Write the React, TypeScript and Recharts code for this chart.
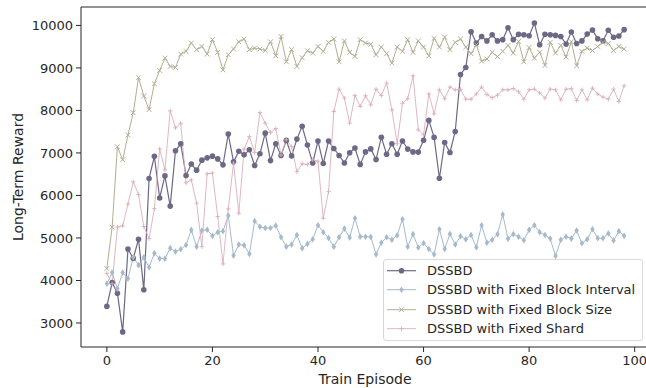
import React from 'react';
import { LineChart, Line, XAxis, YAxis, ReferenceLine } from 'recharts';

const dssbd = [
  3390, 3950, 3700, 2790, 4740, 4520, 4970, 3780, 6400, 6920,
  5940, 6460, 5750, 7050, 7215, 6470, 6740, 6595, 6830, 6885,
  6925, 6860, 6720, 7445, 6790, 7040, 6955, 7075, 6705, 6980,
  7465, 6820, 7215, 6940, 7295, 6930, 7325, 7625, 7185, 6765,
  7280, 6750, 7280, 7105, 6940, 6765, 7005, 7115, 6730, 7025,
  7095, 6845, 7370, 6970, 7215, 6970, 7280, 7090, 7025, 7020,
  7300, 7765, 7365, 6405, 7245, 7010, 7505, 8845, 9010, 9850,
  9585, 9740, 9635, 9780, 9635, 9665, 9945, 9665, 9790, 9780,
  9755, 10055, 9545, 9790, 9780, 9765, 9740, 9560, 9845, 9575,
  9635, 9795, 9890, 9685, 9640, 9885, 9720, 9750, 9900,
];

const fixedInterval = [
  3925, 4185, 3805, 4185, 4045, 4545, 4360, 4545, 4310, 4640,
  4515, 4515, 4760, 4680, 4735, 4835, 5190, 4795, 5175, 5195,
  5050, 5135, 5160, 5525, 4585, 4845, 4830, 4625, 5395, 5265,
  5235, 5235, 5290, 5015, 4795, 4845, 5070, 4760, 4860, 4970,
  5300, 5135, 5000, 4795, 5015, 5220, 5010, 5465, 5030, 5030,
  5025, 4615, 4890, 5015, 4955, 5065, 5440, 4795, 5090, 4775,
  4875, 4740, 4615, 5205, 4740, 5095, 4845, 5040, 4970, 5070,
  4780, 5300, 4890, 4955, 5090, 5550, 4980, 5090, 5030, 4945,
  5190, 5300, 5135, 5070, 4985, 4575, 4955, 5030, 4985, 5175,
  4875, 4970, 5205, 4995, 4995, 5105, 4940, 5160, 5050,
];

const fixedSize = [
  4280, 5255, 7145, 6840, 7420, 7945, 8770, 8340, 8020, 8625,
  8940, 9230, 9035, 9010, 9325, 9390, 9585, 9430, 9505, 9325,
  9665, 9365, 8955, 9310, 9445, 9615, 9680, 9430, 9465, 9445,
  9410, 9615, 9285, 9740, 9145, 9430, 9035, 9240, 9405, 9350,
  9505, 9390, 9600, 9680, 9145, 9635, 9365, 9270, 9665, 9585,
  9555, 9310, 9490, 9335, 9115, 9490, 9390, 9665, 9365, 9635,
  9490, 9285, 9695, 9490, 9725, 9430, 9600, 9680, 9490, 9335,
  9545, 9160, 9210, 9365, 9265, 9390, 9530, 9350, 9625, 9145,
  9480, 9230, 9370, 9060, 9600, 9350, 9530, 9255, 9615, 9050,
  9390, 9465, 9410, 9505, 9600, 9575, 9410, 9505, 9445,
];

const fixedShard = [
  4170, 3920, 5255, 5285, 5800, 6320, 6020, 5270, 4985, 5690,
  7095, 6600, 7990, 7590, 7700, 6295, 6365, 5820, 4795, 6510,
  6525, 5505, 4390, 5685, 6760, 5580, 7090, 7385, 7010, 7950,
  7700, 7480, 7575, 6950, 7310, 7150, 6560, 6745, 6730, 6840,
  6805, 5465, 6090, 7975, 8500, 8290, 7700, 8350, 8095, 8345,
  8130, 8500, 8350, 8645, 8015, 7215, 8170, 8275, 8815, 7545,
  7425, 8390, 7920, 8485, 8275, 8550, 8485, 8500, 8265, 8265,
  8385, 8550, 8375, 8300, 8360, 8485, 8485, 8515, 8440, 8265,
  8485, 8500, 8410, 8290, 8500, 8485, 8250, 8500, 8510, 8235,
  8485, 8250, 8525, 8385, 8315, 8265, 8500, 8210, 8580,
];

const seriesNames = [
  'DSSBD',
  'DSSBD with Fixed Block Interval',
  'DSSBD with Fixed Block Size',
  'DSSBD with Fixed Shard',
];

const xTicks = [0, 20, 40, 60, 80, 100];
const yTicks = [3000, 4000, 5000, 6000, 7000, 8000, 9000, 10000];

const data = dssbd.map((v, i) => ({
  x: i,
  a: v,
  b: fixedInterval[i],
  c: fixedSize[i],
  d: fixedShard[i],
}));

const COLORS = ['#6e6887', '#a6bacb', '#b2ad93', '#dbafba'];
const KINDS = ['circle', 'diamond', 'x', 'plus'];
const WIDTHS = [1.2, 1, 1, 0.9];
const KEYS = ['a', 'b', 'c', 'd'];
const TEXT = '#262626';
const FONT = '"DejaVu Sans", sans-serif';
const Y_DOMAIN: [number, number] = [2435, 10433];

function marker(kind: string, cx: number, cy: number, color: string) {
  if (kind === 'circle') return <circle cx={cx} cy={cy} r={2.8} fill={color} />;
  if (kind === 'diamond')
    return (
      <path
        d={`M${cx},${cy - 3.3}L${cx + 2.2},${cy}L${cx},${cy + 3.3}L${cx - 2.2},${cy}Z`}
        fill={color}
      />
    );
  if (kind === 'x')
    return (
      <path
        d={`M${cx - 2.4},${cy - 2.4}L${cx + 2.4},${cy + 2.4}M${cx - 2.4},${cy + 2.4}L${cx + 2.4},${cy - 2.4}`}
        stroke={color}
        strokeWidth={1}
        fill="none"
      />
    );
  return (
    <path
      d={`M${cx - 2.2},${cy}L${cx + 2.2},${cy}M${cx},${cy - 2.2}L${cx},${cy + 2.2}`}
      stroke={color}
      strokeWidth={0.9}
      fill="none"
    />
  );
}

function makeDot(s: number) {
  return (p: any) => (
    <g key={`m${s}-${p.index}`}>{marker(KINDS[s], p.cx, p.cy, COLORS[s])}</g>
  );
}

function LegendBox() {
  return (
    <div
      style={{
        position: 'absolute',
        left: 383,
        top: 259,
        width: 260,
        height: 82,
        boxSizing: 'border-box',
        border: '1px solid #d9d9d9',
        borderRadius: 3,
        background: 'rgba(255,255,255,0.8)',
        paddingTop: 1,
        fontFamily: FONT,
        fontSize: 13,
        color: TEXT,
      }}
    >
      {seriesNames.map((name, s) => (
        <div
          key={name}
          style={{ height: 19.4, display: 'flex', alignItems: 'center', position: 'relative' }}
        >
          <svg width={30} height={19.4} style={{ position: 'absolute', left: 3, top: 0 }}>
            <line x1={0} x2={29} y1={9.7} y2={9.7} stroke={COLORS[s]} strokeWidth={WIDTHS[s]} />
            {marker(KINDS[s], 14.5, 9.7, COLORS[s])}
          </svg>
          <span style={{ position: 'absolute', left: 43, top: 1, whiteSpace: 'nowrap', lineHeight: '17px' }}>
            {name}
          </span>
        </div>
      ))}
    </div>
  );
}

export default function App() {
  return (
    <div
      style={{
        position: 'fixed',
        left: 0,
        top: 0,
        width: 646,
        height: 388,
        overflow: 'hidden',
        background: '#fff',
        fontFamily: FONT,
      }}
    >
      <LineChart
        width={660}
        height={388}
        data={data}
        margin={{ top: 7, right: 10, bottom: 0, left: 0 }}
      >
        <XAxis
          dataKey="x"
          type="number"
          domain={[-4.9, 102.9]}
          ticks={xTicks}
          allowDataOverflow
          height={41}
          tickSize={5}
          tickMargin={4}
          tick={{ fontSize: 13, fill: TEXT, fontFamily: FONT }}
          tickLine={{ stroke: TEXT, strokeWidth: 1 }}
          axisLine={{ stroke: TEXT, strokeWidth: 1 }}
          label={{
            content: () => (
              <text
                x={365}
                y={379}
                textAnchor="middle"
                dominantBaseline="central"
                fontSize={14}
                fill={TEXT}
                fontFamily={FONT}
              >
                Train Episode
              </text>
            ),
          }}
        />
        <YAxis
          type="number"
          domain={Y_DOMAIN}
          ticks={yTicks}
          allowDataOverflow
          width={81}
          tickSize={5}
          tickMargin={3}
          tick={{ fontSize: 13, fill: TEXT, fontFamily: FONT }}
          tickLine={{ stroke: TEXT, strokeWidth: 1 }}
          axisLine={{ stroke: TEXT, strokeWidth: 1 }}
          label={{
            content: () => (
              <text
                x={18}
                y={177}
                transform="rotate(-90 18 177)"
                textAnchor="middle"
                dominantBaseline="central"
                fontSize={14}
                fill={TEXT}
                fontFamily={FONT}
              >
                Long-Term Reward
              </text>
            ),
          }}
        />
        <ReferenceLine y={Y_DOMAIN[1]} stroke={TEXT} strokeWidth={1} ifOverflow="visible" />
        {KEYS.map((k, s) => (
          <Line
            key={k}
            dataKey={k}
            type="linear"
            stroke={COLORS[s]}
            strokeWidth={WIDTHS[s]}
            dot={makeDot(s)}
            activeDot={false}
            isAnimationActive={false}
          />
        ))}
      </LineChart>
      <LegendBox />
    </div>
  );
}
